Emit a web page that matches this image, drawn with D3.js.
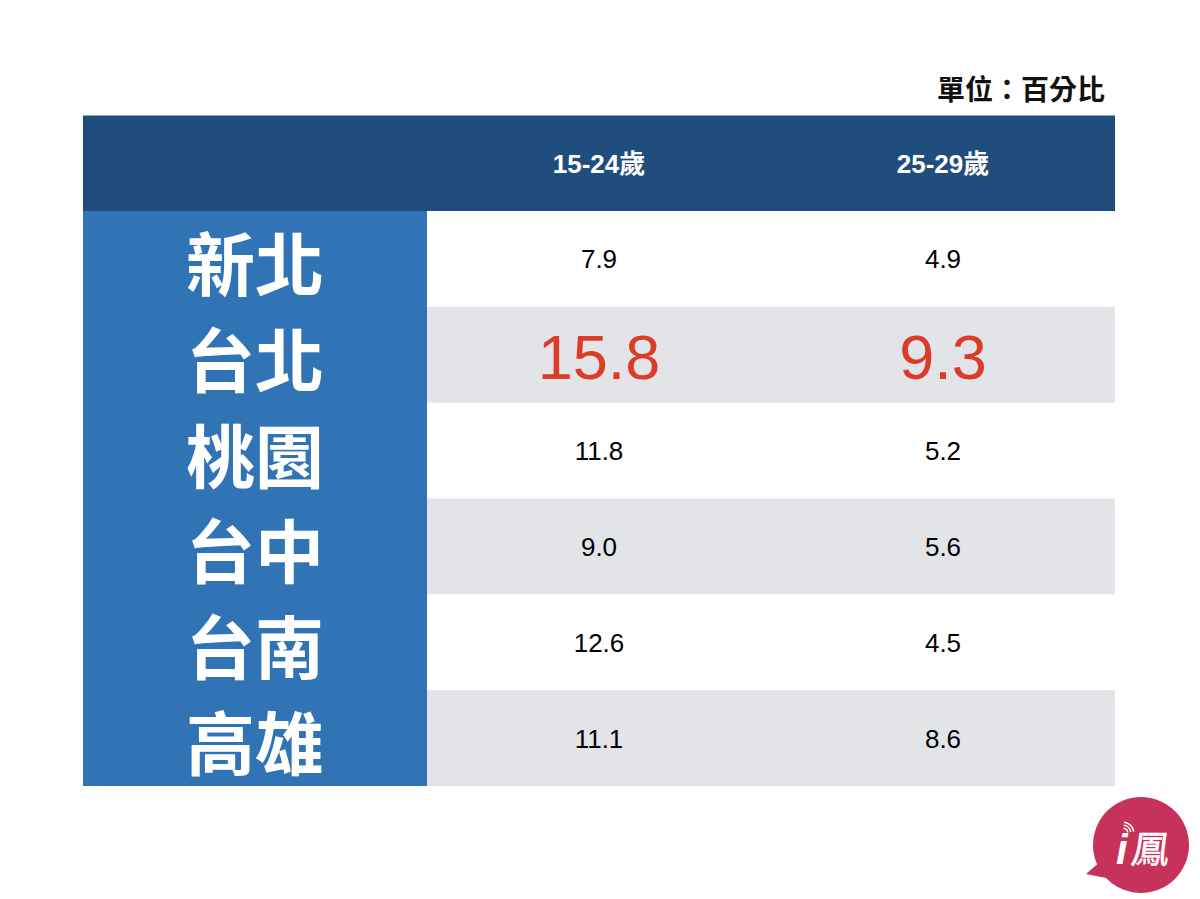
<!DOCTYPE html>
<html>
<head>
<meta charset="utf-8">
<script src="https://d3js.org/d3.v7.min.js"></script>
<style>
html, body { margin: 0; padding: 0; background: #fff; }
svg { display: block; }
text { font-family: "Liberation Sans", "Noto Sans CJK TC", sans-serif; }
</style>
</head>
<body>
<div id="chart"></div>
<script>
//table values
var cities = ['新北', '台北', '桃園', '台中', '台南', '高雄'];
var ageGroups = ['15-24歲', '25-29歲'];
var youth = ['7.9', '15.8', '11.8', '9.0', '12.6', '11.1'];
var young = ['4.9', '9.3', '5.2', '5.6', '4.5', '8.6'];
var highlightCity = '台北';
var unitLabel = '單位：百分比';

var width = 1200, height = 899;
var svg = d3.select('#chart').append('svg')
    .attr('width', width)
    .attr('height', height);

var x = d3.scaleBand().domain(ageGroups).range([427, 1115]);
var y = d3.scaleBand().domain(cities).range([211, 786]);

//unit label
svg.append('text')
    .attr('x', 1105)
    .attr('y', 99.5)
    .attr('text-anchor', 'end')
    .attr('font-size', 28)
    .attr('font-weight', 700)
    .attr('fill', '#111')
    .text(unitLabel);

//header band
svg.append('rect')
    .attr('x', 83).attr('y', 115.5)
    .attr('width', 1032).attr('height', 95.5)
    .attr('fill', '#1f4e7e');

svg.selectAll('.colLabel')
    .data(ageGroups).enter().append('text')
    .attr('class', 'colLabel')
    .attr('x', function(d) { return x(d) + x.bandwidth() / 2 })
    .attr('y', 173)
    .attr('text-anchor', 'middle')
    .attr('font-size', 26)
    .attr('font-weight', 700)
    .attr('fill', '#fff')
    .text(function(d) { return d });

//city column
svg.append('rect')
    .attr('x', 83).attr('y', 211)
    .attr('width', 344).attr('height', 575)
    .attr('fill', '#3174b6');

svg.selectAll('.cityLabel')
    .data(cities).enter().append('text')
    .attr('class', 'cityLabel')
    .attr('x', 255)
    .attr('y', function(d) { return y(d) + y.bandwidth() / 2 + 32 })
    .attr('text-anchor', 'middle')
    .attr('font-size', 69)
    .attr('font-weight', 700)
    .attr('fill', '#fff')
    .text(function(d) { return d });

//striped rows
svg.selectAll('.stripe')
    .data(cities.filter(function(d, i) { return i % 2 == 1 }))
    .enter().append('rect')
    .attr('class', 'stripe')
    .attr('x', 427)
    .attr('y', function(d) { return y(d) })
    .attr('width', 688)
    .attr('height', y.bandwidth())
    .attr('fill', '#e3e4e8');

//value cells
[youth, young].forEach(function(values, k) {
    svg.selectAll('.val' + k)
        .data(values).enter().append('text')
        .attr('class', 'val' + k)
        .attr('x', x(ageGroups[k]) + x.bandwidth() / 2)
        .attr('y', function(d, i) {
            var hot = cities[i] == highlightCity;
            return y(cities[i]) + y.bandwidth() / 2 + (hot ? 24 : 9.5);
        })
        .attr('text-anchor', 'middle')
        .attr('font-size', function(d, i) { return cities[i] == highlightCity ? 63 : 26 })
        .attr('fill', function(d, i) { return cities[i] == highlightCity ? '#dc3c27' : '#000' })
        .text(function(d) { return d });
});

//logo badge
var logo = svg.append('g').attr('transform', 'translate(1141,845)');
logo.append('circle').attr('r', 48).attr('fill', '#c7325a');
logo.append('path').attr('d', 'M-40,16 L-55,29 L-20,36 Z').attr('fill', '#c7325a');
logo.append('text')
    .attr('x', -25).attr('y', 19)
    .attr('font-size', 42)
    .attr('font-style', 'italic')
    .attr('font-weight', 700)
    .attr('fill', '#fff')
    .text('i');
logo.append('text')
    .attr('transform', 'translate(-11,18) skewX(-8)')
    .attr('font-size', 38)
    .attr('fill', '#fff')
    .attr('stroke', '#fff')
    .attr('stroke-width', 0.5)
    .text('鳳');
[4, 7, 10].forEach(function(r) {
    logo.append('path')
        .attr('d', d3.arc()({ innerRadius: r, outerRadius: r + 1.5, startAngle: 0.1, endAngle: 1.45 }))
        .attr('transform', 'translate(-18,-12)')
        .attr('fill', '#fff');
});
</script>
</body>
</html>
